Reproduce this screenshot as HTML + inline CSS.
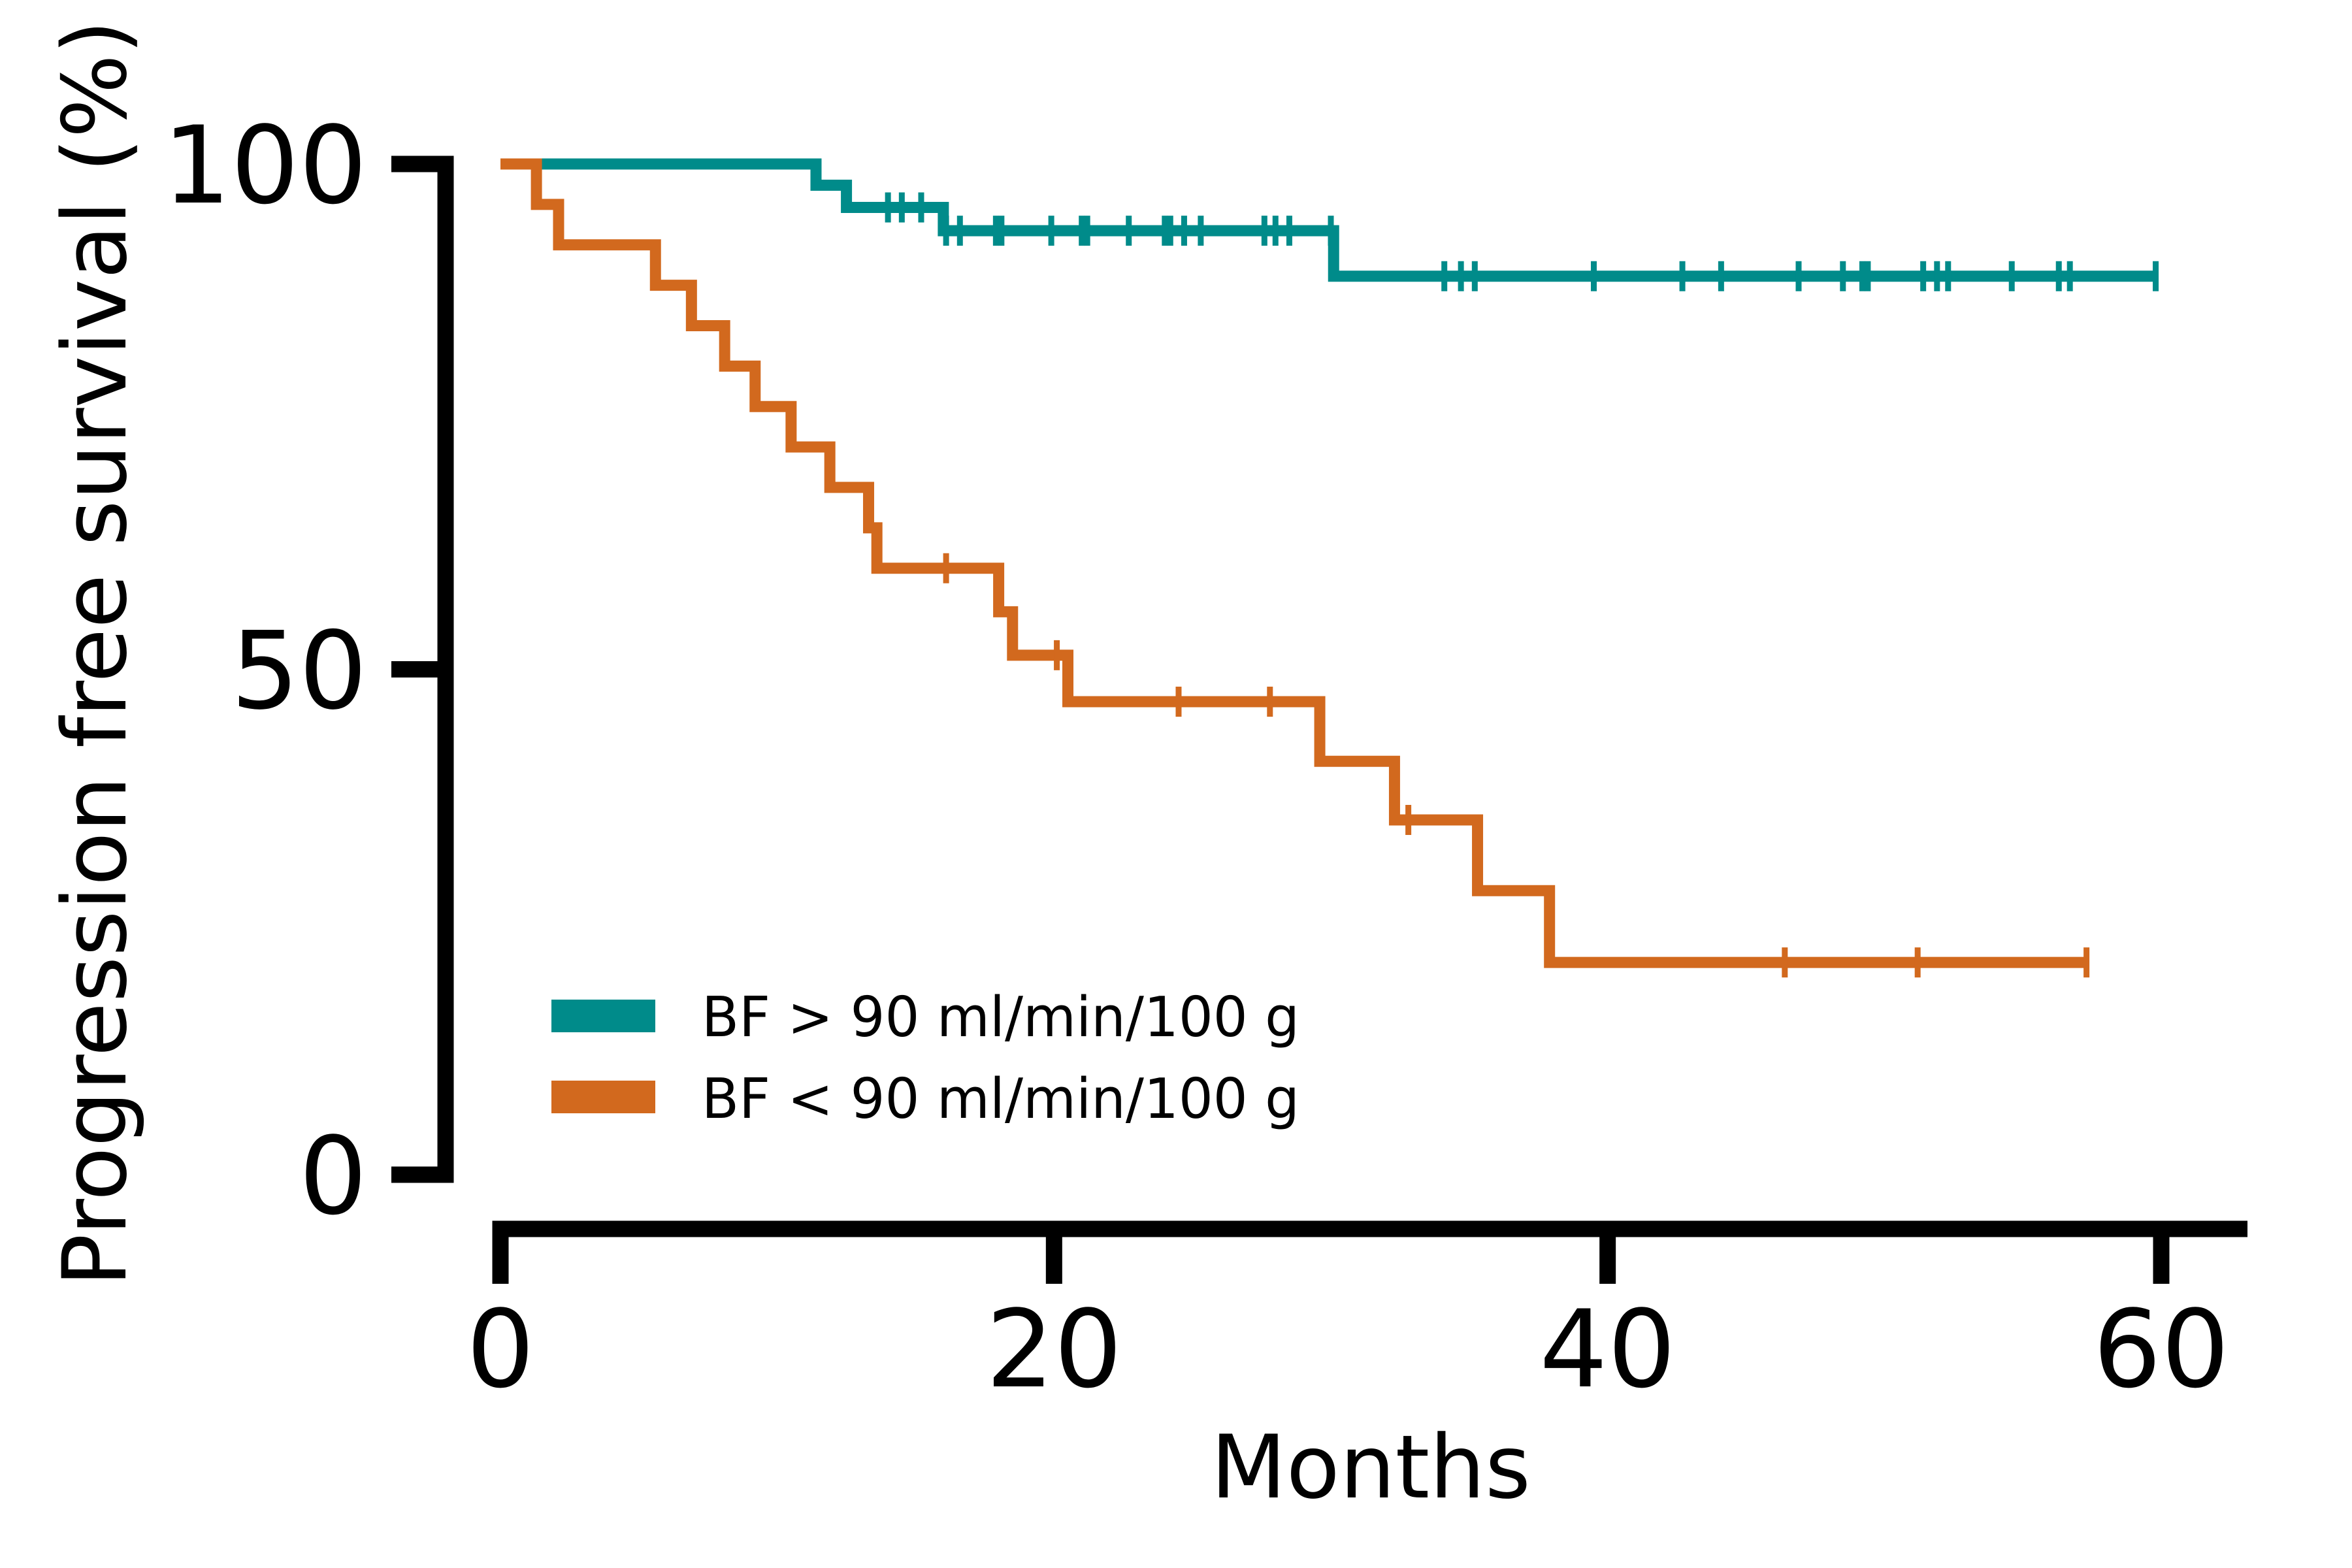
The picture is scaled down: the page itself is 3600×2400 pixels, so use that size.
<!DOCTYPE html>
<html><head><meta charset="utf-8"><style>
html,body{margin:0;padding:0;background:#fff;}
svg{display:block;}
text{font-family:"DejaVu Sans","Liberation Sans",sans-serif;fill:#000;}
</style></head><body>
<svg id="chart" width="3600" height="2400" viewBox="0 0 3600 2400" xmlns="http://www.w3.org/2000/svg">
<rect width="3600" height="2400" fill="#fff"/>
<g id="axes"></g>
<g id="series"></g>
<g>
  <rect x="844" y="1530" width="159" height="50" fill="#008B8A"/>
  <text x="1074" y="1586" font-size="85" textLength="915" lengthAdjust="spacingAndGlyphs">BF &gt; 90 ml/min/100 g</text>
  <rect x="844" y="1654" width="159" height="50" fill="#D2691E"/>
  <text x="1074" y="1711" font-size="85" textLength="915" lengthAdjust="spacingAndGlyphs">BF &lt; 90 ml/min/100 g</text>
</g>
<text x="2098" y="2292" font-size="134" text-anchor="middle">Months</text>
<text transform="translate(192,1000) rotate(-90)" font-size="135" text-anchor="middle">Progression free survival (%)</text>
</svg>
<script>
const xTicks = [0, 20, 40, 60];
const yTicks = [0, 50, 100];
const highTimes = [0, 11.4, 12.5, 16.0, 30.1];
const highSurv = [100, 97.9, 95.7, 93.4, 88.9];
const highEnd = 59.8;
const highCensor = [14.0, 14.5, 15.2, 16.1, 16.6, 17.9, 18.1, 19.9, 21.0, 21.2, 22.7, 24.0, 24.2, 24.7, 25.3, 27.6, 28.0, 28.5, 30.0, 34.1, 34.7, 35.2, 39.5, 42.7, 44.1, 46.9, 48.5, 49.2, 49.4, 51.4, 51.9, 52.3, 54.6, 56.3, 56.7, 59.8];
const lowTimes = [0, 1.3, 2.1, 5.6, 6.9, 8.1, 9.2, 10.5, 11.9, 13.3, 13.6, 18.0, 18.5, 20.5, 29.6, 32.3, 35.3, 37.9];
const lowSurv = [100, 96, 92, 88, 84, 80, 76, 72, 68, 64, 60, 55.7, 51.4, 46.8, 40.9, 35.1, 28.1, 21.0];
const lowEnd = 57.3;
const lowCensor = [16.1, 20.1, 24.5, 27.8, 32.8, 46.4, 51.2, 57.3];

const NS = "http://www.w3.org/2000/svg";
const xs = m => 766 + (m - 0) * (3308 - 766) / 60;
const ys = p => 1798 - p * (1798 - 251) / 100;
function mk(tag, attrs, parent) {
  const e = document.createElementNS(NS, tag);
  for (const k in attrs) e.setAttribute(k, attrs[k]);
  parent.appendChild(e);
  return e;
}
const axes = document.getElementById('axes');
const series = document.getElementById('series');

let ysp = mk('line', {x1: 682, y1: ys(100) - 12.5, x2: 682, y2: ys(0) + 12.5, stroke: '#000', 'stroke-width': 25}, axes);


yTicks.forEach(v => {
  const t = mk('line', {x1: 599, y1: ys(v), x2: 682, y2: ys(v), stroke: '#000', 'stroke-width': 25}, axes);
  
  
  const l = mk('text', {x: 562, y: ys(v) + 59, 'font-size': 164, 'text-anchor': 'end'}, axes);
  l.textContent = v;
  
  
});
let xsp = mk('line', {x1: xs(0) - 12.5, y1: 1881, x2: 3440, y2: 1881, stroke: '#000', 'stroke-width': 25}, axes);


xTicks.forEach(v => {
  const t = mk('line', {x1: xs(v), y1: 1881, x2: xs(v), y2: 1965, stroke: '#000', 'stroke-width': 25}, axes);
  
  
  const l = mk('text', {x: xs(v), y: 2122, 'font-size': 164, 'text-anchor': 'middle'}, axes);
  l.textContent = v;
  
  
});

function stepPath(times, surv, end) {
  let d = 'M' + xs(times[0]) + ',' + ys(surv[0]);
  for (let i = 1; i < times.length; i++) {
    d += ' H' + xs(times[i]) + ' V' + ys(surv[i]);
  }
  d += ' H' + xs(end);
  return d;
}
function survAt(times, surv, t) {
  let s = surv[0];
  for (let i = 0; i < times.length; i++) if (times[i] <= t) s = surv[i];
  return s;
}
function drawSeries(name, times, surv, end, censor, color) {
  const g = mk('g', {}, series);
  
  
  const p = mk('path', {d: stepPath(times, surv, end), fill: 'none', stroke: color, 'stroke-width': 17, 'stroke-linejoin': 'miter', 'stroke-linecap': 'butt'}, g);
  
  
  censor.forEach(c => {
    const y = ys(survAt(times, surv, c));
    const m = mk('line', {x1: xs(c), y1: y - 23, x2: xs(c), y2: y + 23, stroke: color, 'stroke-width': 9}, g);
    
    
  });
}
drawSeries('high-bf', highTimes, highSurv, highEnd, highCensor, '#008B8A');
drawSeries('low-bf', lowTimes, lowSurv, lowEnd, lowCensor, '#D2691E');
</script>
</body></html>
